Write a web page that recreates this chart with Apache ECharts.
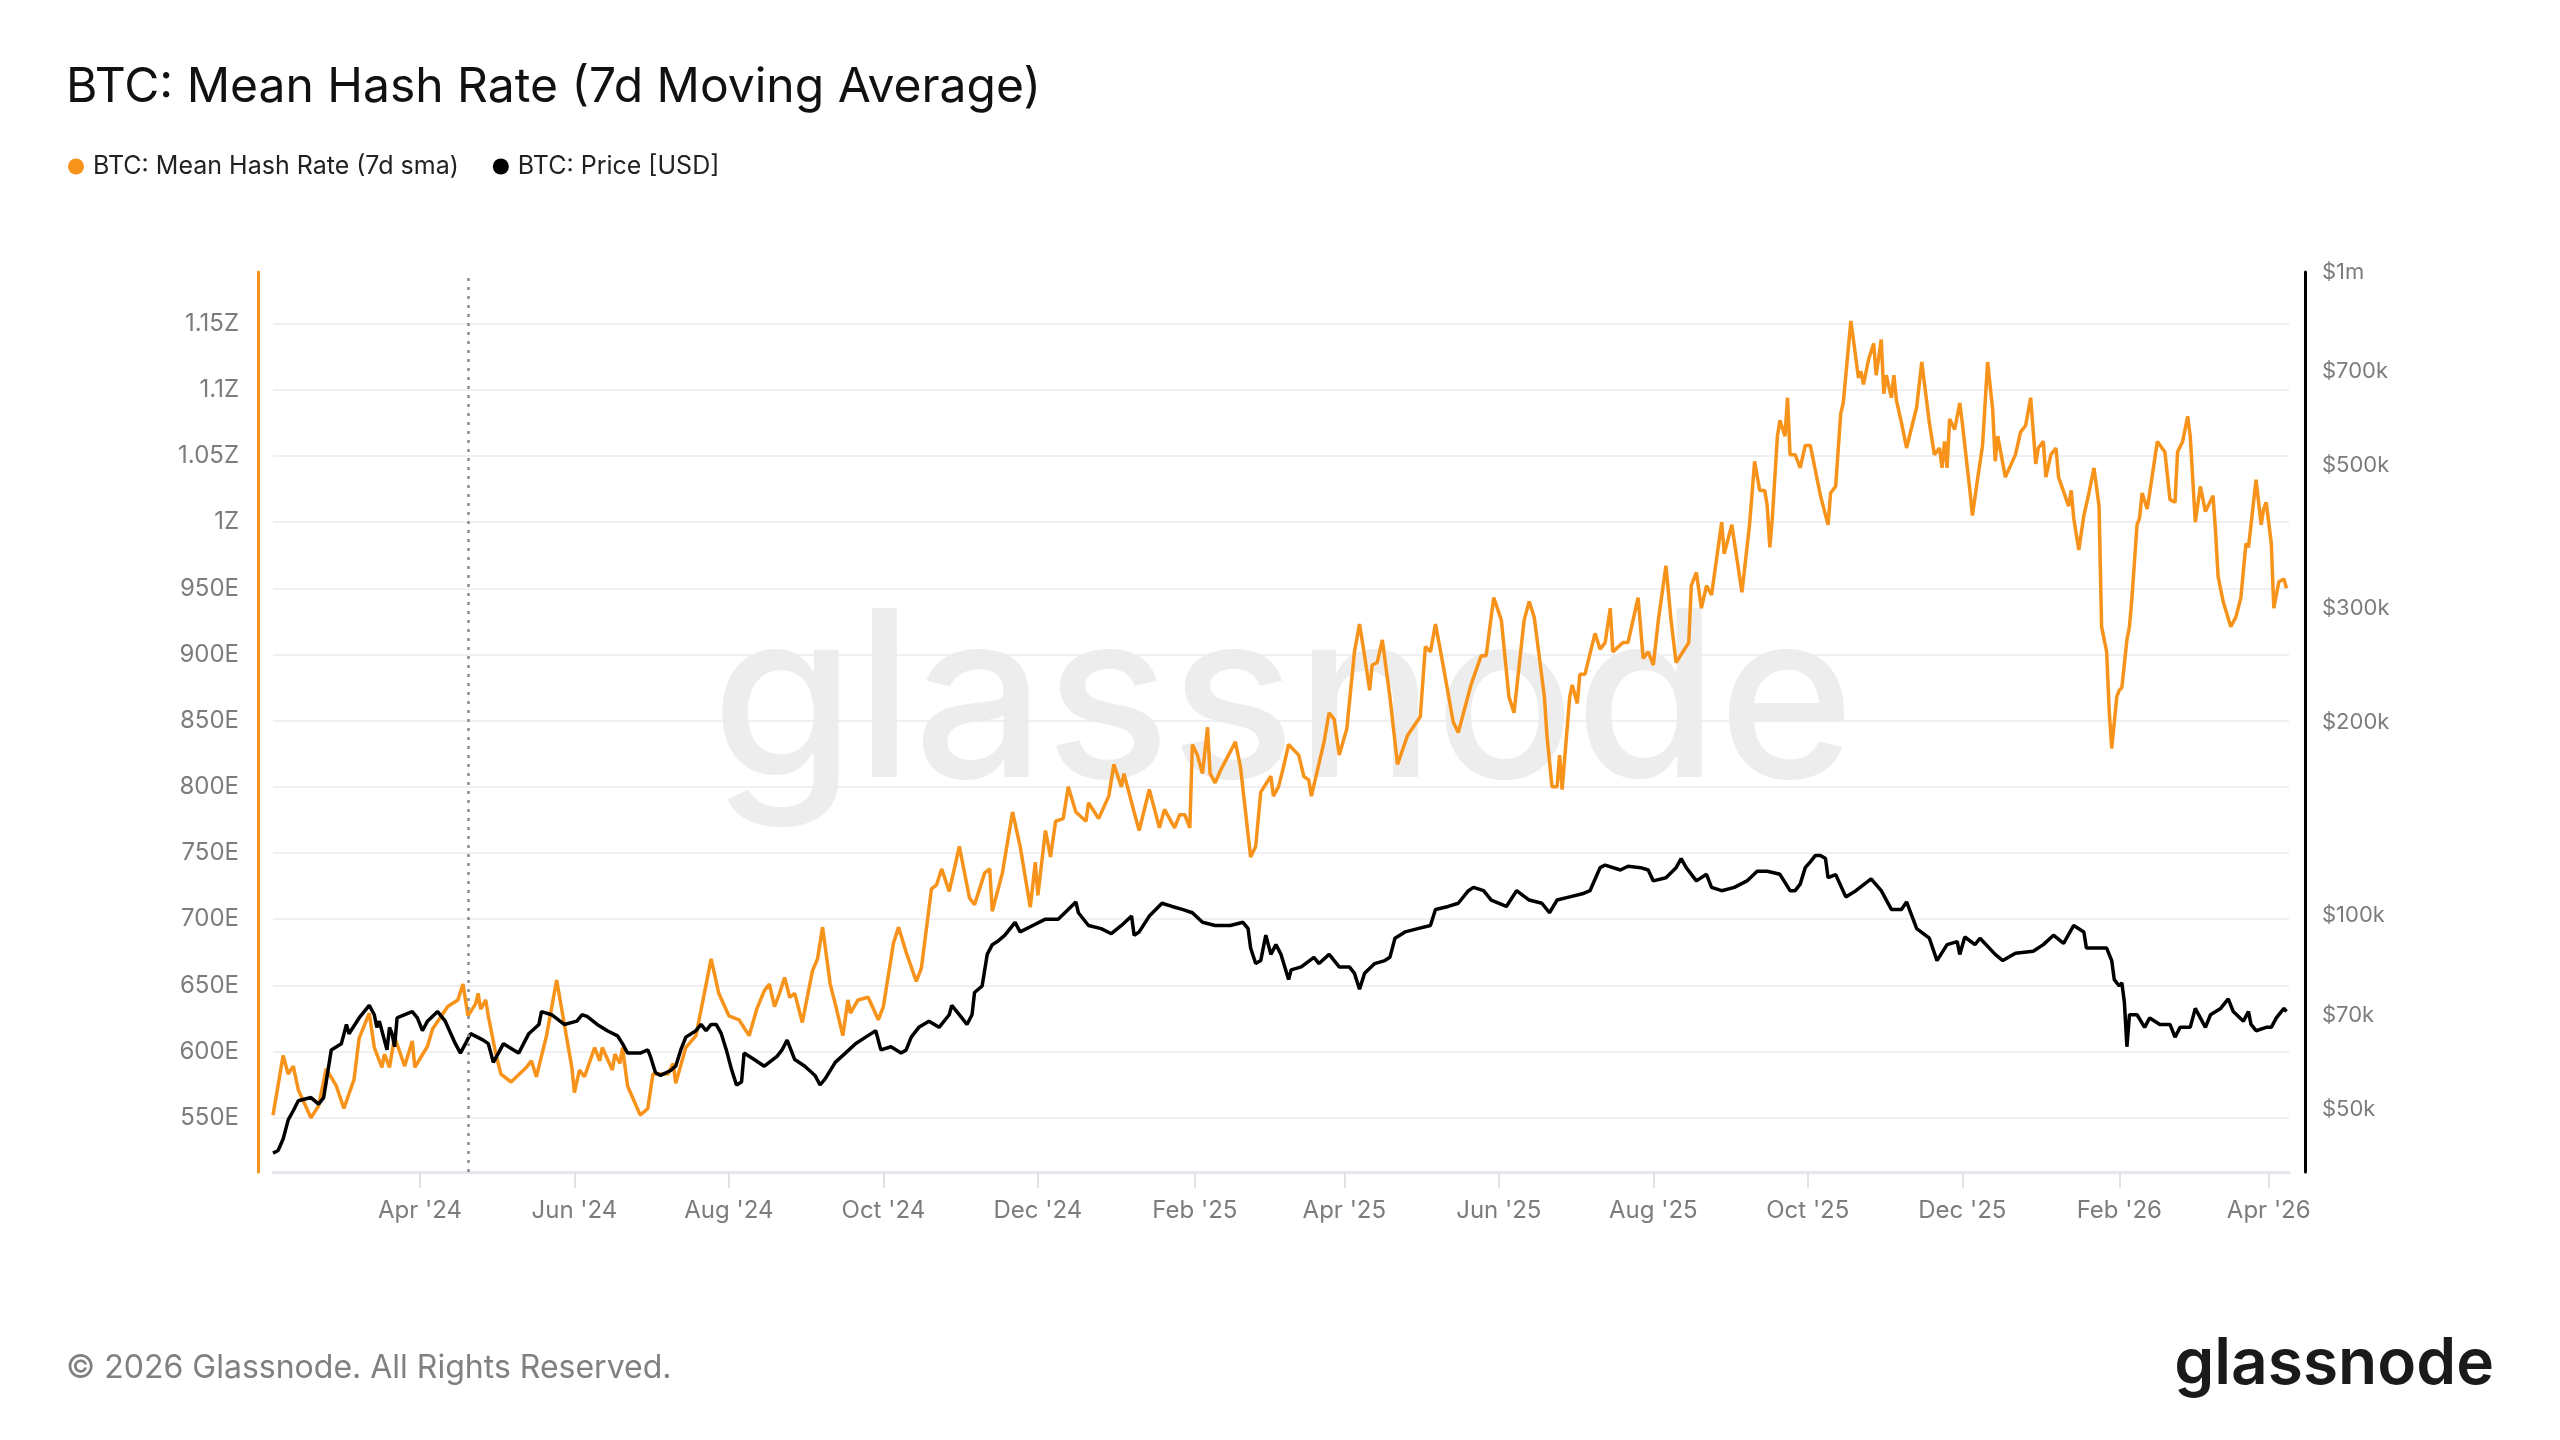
<!DOCTYPE html>
<html>
<head>
<meta charset="utf-8">
<script src="https://cdn.jsdelivr.net/npm/echarts@6/dist/echarts.min.js"></script>
<style>
html,body{margin:0;padding:0;background:#ffffff;}
#chart{width:2560px;height:1440px;}
</style>
</head>
<body>
<div id="chart"></div>
<script>
// ---------- DATA ----------
const hashDates = [
'2024-02-03','2024-02-07','2024-02-09','2024-02-11','2024-02-13','2024-02-18','2024-02-21','2024-02-24','2024-02-28','2024-03-02',
'2024-03-06','2024-03-08','2024-03-12','2024-03-14','2024-03-17','2024-03-18','2024-03-20','2024-03-22','2024-03-26','2024-03-29',
'2024-03-30','2024-04-04','2024-04-06','2024-04-12','2024-04-16','2024-04-18','2024-04-20','2024-04-23','2024-04-24','2024-04-25',
'2024-04-27','2024-04-28','2024-05-01','2024-05-03','2024-05-07','2024-05-13','2024-05-15','2024-05-17','2024-05-21','2024-05-25',
'2024-05-27','2024-05-31','2024-06-01','2024-06-03','2024-06-05','2024-06-09','2024-06-11','2024-06-12','2024-06-16','2024-06-17',
'2024-06-19','2024-06-20','2024-06-22','2024-06-27','2024-06-30','2024-07-02','2024-07-08','2024-07-10','2024-07-11','2024-07-15',
'2024-07-19','2024-07-22','2024-07-25','2024-07-28','2024-08-01','2024-08-05','2024-08-09','2024-08-12','2024-08-15','2024-08-17',
'2024-08-19','2024-08-21','2024-08-23','2024-08-25','2024-08-27','2024-08-30','2024-09-03','2024-09-05','2024-09-07','2024-09-10',
'2024-09-12','2024-09-15','2024-09-17','2024-09-18','2024-09-21','2024-09-25','2024-09-29','2024-10-01','2024-10-05','2024-10-07',
'2024-10-10','2024-10-14','2024-10-16','2024-10-20','2024-10-22','2024-10-24','2024-10-27','2024-10-31','2024-11-04','2024-11-06',
'2024-11-10','2024-11-12','2024-11-13','2024-11-17','2024-11-21','2024-11-24','2024-11-28','2024-11-30','2024-12-01','2024-12-04',
'2024-12-06','2024-12-08','2024-12-11','2024-12-13','2024-12-16','2024-12-20','2024-12-21','2024-12-25','2024-12-29','2024-12-31',
'2025-01-03','2025-01-04','2025-01-08','2025-01-10','2025-01-14','2025-01-18','2025-01-20','2025-01-24','2025-01-26','2025-01-28',
'2025-01-30','2025-01-31','2025-02-02','2025-02-04','2025-02-06','2025-02-07','2025-02-09','2025-02-11','2025-02-17','2025-02-19',
'2025-02-21','2025-02-23','2025-02-25','2025-02-27','2025-03-03','2025-03-04','2025-03-06','2025-03-08','2025-03-10','2025-03-14',
'2025-03-16','2025-03-18','2025-03-19','2025-03-24','2025-03-26','2025-03-28','2025-03-30','2025-04-02','2025-04-05','2025-04-07',
'2025-04-09','2025-04-11','2025-04-12','2025-04-14','2025-04-16','2025-04-19','2025-04-22','2025-04-26','2025-05-01','2025-05-03',
'2025-05-05','2025-05-07','2025-05-10','2025-05-14','2025-05-16','2025-05-21','2025-05-25','2025-05-27','2025-05-30','2025-06-02',
'2025-06-05','2025-06-07','2025-06-11','2025-06-13','2025-06-15','2025-06-19','2025-06-20','2025-06-22','2025-06-24','2025-06-25',
'2025-06-26','2025-06-29','2025-06-30','2025-07-02','2025-07-03','2025-07-05','2025-07-09','2025-07-11','2025-07-13','2025-07-15',
'2025-07-16','2025-07-20','2025-07-22','2025-07-26','2025-07-28','2025-07-30','2025-08-01','2025-08-03','2025-08-06','2025-08-08',
'2025-08-10','2025-08-15','2025-08-16','2025-08-18','2025-08-20','2025-08-22','2025-08-24','2025-08-28','2025-08-29','2025-09-01',
'2025-09-05','2025-09-08','2025-09-10','2025-09-12','2025-09-14','2025-09-15','2025-09-16','2025-09-17','2025-09-19','2025-09-20',
'2025-09-22','2025-09-23','2025-09-24','2025-09-26','2025-09-28','2025-09-30','2025-10-02','2025-10-04','2025-10-06','2025-10-09',
'2025-10-10','2025-10-12','2025-10-14','2025-10-15','2025-10-18','2025-10-19','2025-10-21','2025-10-22','2025-10-23','2025-10-25',
'2025-10-27','2025-10-28','2025-10-30','2025-10-31','2025-11-01','2025-11-03','2025-11-04','2025-11-05','2025-11-07','2025-11-09',
'2025-11-13','2025-11-15','2025-11-18','2025-11-20','2025-11-22','2025-11-23','2025-11-24','2025-11-25','2025-11-26','2025-11-28',
'2025-11-30','2025-12-01','2025-12-04','2025-12-05','2025-12-07','2025-12-09','2025-12-11','2025-12-13','2025-12-14','2025-12-15',
'2025-12-18','2025-12-22','2025-12-24','2025-12-26','2025-12-28','2025-12-30','2025-12-31','2026-01-02','2026-01-03','2026-01-05',
'2026-01-07','2026-01-08','2026-01-12','2026-01-13','2026-01-14','2026-01-16','2026-01-18','2026-01-20','2026-01-22','2026-01-24',
'2026-01-25','2026-01-27','2026-01-28','2026-01-29','2026-01-31','2026-02-01','2026-02-02','2026-02-04','2026-02-05','2026-02-06',
'2026-02-08','2026-02-09','2026-02-10','2026-02-12','2026-02-13','2026-02-16','2026-02-19','2026-02-21','2026-02-23','2026-02-24',
'2026-02-26','2026-02-28','2026-03-01','2026-03-03','2026-03-05','2026-03-07','2026-03-10','2026-03-11','2026-03-12','2026-03-14',
'2026-03-17','2026-03-19','2026-03-21','2026-03-23','2026-03-24','2026-03-25','2026-03-27','2026-03-29','2026-03-30','2026-03-31',
'2026-04-02','2026-04-03','2026-04-05','2026-04-07','2026-04-08'
];
// Mean hash rate, in EH/s (1000 = 1 ZH/s)
const hashValues = [
552,597,583,589,571,550,559,587,574,557,
579,610,629,603,588,598,588,611,589,608,
588,604,617,634,639,651,627,636,644,632,
639,627,598,583,577,588,593,581,612,654,
632,588,569,586,581,603,593,603,586,598,
591,603,574,552,557,583,583,591,576,603,
612,641,670,644,627,624,612,632,646,651,
634,644,656,641,644,622,661,670,694,651,
636,612,639,629,639,641,624,634,682,694,
675,653,663,723,726,738,721,755,716,711,
735,738,706,735,781,755,709,743,718,767,
747,774,776,800,781,774,788,776,793,817,
800,810,781,767,798,769,783,769,779,779,
769,832,824,810,845,810,803,812,834,815,
781,747,755,796,808,793,800,815,832,824,
808,805,793,834,856,851,824,844,902,923,
899,873,892,894,911,868,817,839,853,906,
902,923,892,849,841,877,899,899,943,926,
868,856,926,940,928,868,839,800,800,824,
798,868,877,863,885,885,916,904,909,935,
902,909,909,943,897,902,892,926,967,926,
894,909,952,962,935,952,945,1000,976,998,
947,998,1046,1024,1024,1012,981,1003,1065,1077,
1065,1094,1051,1051,1041,1058,1058,1039,1020,998,
1022,1027,1082,1090,1152,1138,1109,1114,1104,1123,
1135,1111,1138,1097,1111,1094,1111,1092,1075,1056,
1087,1121,1075,1051,1056,1041,1061,1041,1078,1070,
1090,1075,1024,1005,1032,1058,1121,1085,1046,1065,
1034,1051,1068,1073,1094,1044,1056,1061,1034,1051,
1056,1034,1012,1024,1003,979,1005,1022,1041,1012,
921,902,858,829,868,873,875,911,921,943,
998,1003,1022,1010,1022,1061,1053,1017,1015,1053,
1061,1080,1065,1000,1027,1008,1020,993,959,940,
921,928,943,984,981,998,1032,998,1010,1015,
984,935,955,957,950
];
const priceDates = [
'2024-02-03','2024-02-05','2024-02-07','2024-02-09','2024-02-11','2024-02-13','2024-02-18','2024-02-21','2024-02-23','2024-02-24',
'2024-02-26','2024-03-01','2024-03-03','2024-03-04','2024-03-08','2024-03-12','2024-03-14','2024-03-15','2024-03-16','2024-03-19',
'2024-03-20','2024-03-21','2024-03-22','2024-03-23','2024-03-27','2024-03-29','2024-03-31','2024-04-02','2024-04-04','2024-04-08',
'2024-04-11','2024-04-15','2024-04-17','2024-04-19','2024-04-21','2024-04-26','2024-04-28','2024-04-30','2024-05-02','2024-05-04',
'2024-05-08','2024-05-10','2024-05-14','2024-05-18','2024-05-19','2024-05-23','2024-05-28','2024-06-02','2024-06-04','2024-06-06',
'2024-06-10','2024-06-14','2024-06-18','2024-06-20','2024-06-22','2024-06-27','2024-06-30','2024-07-01','2024-07-03','2024-07-05',
'2024-07-09','2024-07-11','2024-07-13','2024-07-15','2024-07-19','2024-07-21','2024-07-23','2024-07-25','2024-07-27','2024-07-29',
'2024-07-31','2024-08-02','2024-08-04','2024-08-06','2024-08-07','2024-08-11','2024-08-15','2024-08-20','2024-08-22','2024-08-24',
'2024-08-27','2024-08-31','2024-09-04','2024-09-06','2024-09-08','2024-09-12','2024-09-16','2024-09-20','2024-09-24','2024-09-28',
'2024-09-30','2024-10-04','2024-10-08','2024-10-10','2024-10-12','2024-10-15','2024-10-19','2024-10-23','2024-10-27','2024-10-28',
'2024-11-01','2024-11-03','2024-11-05','2024-11-06','2024-11-09','2024-11-11','2024-11-13','2024-11-15','2024-11-18','2024-11-22',
'2024-11-24','2024-11-29','2024-12-04','2024-12-09','2024-12-13','2024-12-16','2024-12-17','2024-12-21','2024-12-26','2024-12-30',
'2025-01-03','2025-01-07','2025-01-08','2025-01-10','2025-01-14','2025-01-19','2025-01-23','2025-01-27','2025-01-31','2025-02-04',
'2025-02-09','2025-02-15','2025-02-20','2025-02-22','2025-02-23','2025-02-25','2025-02-27','2025-03-01','2025-03-03','2025-03-05',
'2025-03-07','2025-03-10','2025-03-11','2025-03-15','2025-03-20','2025-03-22','2025-03-26','2025-03-30','2025-04-03','2025-04-05',
'2025-04-07','2025-04-09','2025-04-13','2025-04-17','2025-04-19','2025-04-21','2025-04-25','2025-04-30','2025-05-05','2025-05-07',
'2025-05-12','2025-05-16','2025-05-20','2025-05-22','2025-05-26','2025-05-29','2025-06-04','2025-06-08','2025-06-13','2025-06-18',
'2025-06-21','2025-06-24','2025-06-29','2025-07-04','2025-07-07','2025-07-11','2025-07-13','2025-07-19','2025-07-22','2025-07-27',
'2025-07-30','2025-08-01','2025-08-06','2025-08-10','2025-08-12','2025-08-14','2025-08-18','2025-08-22','2025-08-24','2025-08-28',
'2025-09-02','2025-09-07','2025-09-11','2025-09-15','2025-09-20','2025-09-24','2025-09-26','2025-09-28','2025-09-30','2025-10-02',
'2025-10-04','2025-10-06','2025-10-08','2025-10-09','2025-10-12','2025-10-16','2025-10-20','2025-10-26','2025-10-30','2025-11-03',
'2025-11-07','2025-11-09','2025-11-13','2025-11-18','2025-11-21','2025-11-25','2025-11-29','2025-11-30','2025-12-02','2025-12-06',
'2025-12-08','2025-12-14','2025-12-17','2025-12-22','2025-12-29','2026-01-02','2026-01-06','2026-01-10','2026-01-14','2026-01-18',
'2026-01-19','2026-01-25','2026-01-27','2026-01-29','2026-01-30','2026-02-01','2026-02-02','2026-02-03','2026-02-04','2026-02-05',
'2026-02-08','2026-02-11','2026-02-13','2026-02-17','2026-02-21','2026-02-23','2026-02-25','2026-03-01','2026-03-03','2026-03-05',
'2026-03-07','2026-03-09','2026-03-13','2026-03-16','2026-03-18','2026-03-22','2026-03-24','2026-03-25','2026-03-27','2026-03-31',
'2026-04-02','2026-04-04','2026-04-07','2026-04-08'
];
// BTC price in USD
const priceValues = [
42800,43200,45000,48200,49800,51600,52200,51000,52200,55200,
61900,63300,67800,65600,69400,72600,70200,67100,68600,61900,
67100,65600,62600,69400,70500,71000,69400,66300,68600,71000,
68600,63300,61200,63300,65600,64100,63300,59200,61200,63300,
61900,61200,65600,67800,71000,70200,67800,68600,70200,69800,
67800,66300,65100,63300,61200,61200,61900,60500,57100,56500,
57500,58400,61900,64800,66300,67800,66300,67800,67800,65600,
61900,57800,54600,55200,61200,59800,58400,60500,61900,64100,
59800,58400,56500,54600,55800,59200,61200,63300,64800,66300,
61900,62600,61200,61900,64800,67100,68600,67100,70200,72600,
69400,67800,70200,76000,77800,87100,90200,91200,93300,97700,
94400,96600,98800,98800,102300,105100,101100,96600,95500,93800,
96600,99900,93300,94400,99900,104600,103400,102300,101100,97700,
96600,96600,97700,95500,89100,84300,85200,93300,87100,90200,
87100,79600,82400,83300,86200,84300,87100,83300,83300,81400,
76900,81400,84300,85200,86200,92300,94400,95500,96600,102300,
103400,104600,109400,110700,109400,105800,103400,109400,105800,104600,
101100,105800,107000,108200,109400,118800,119900,117800,119400,118800,
117800,113300,114600,118800,122700,118800,113300,116000,110700,109400,
110700,113300,117300,117300,116000,109400,109400,112000,118800,121300,
124100,124100,122700,114600,115900,107000,109400,114100,109400,102300,
102300,105100,95500,92300,85200,90200,91200,87100,92700,90200,
92300,87100,85200,87500,88100,90200,93300,90600,96600,94400,
89100,89100,89100,85200,79600,77800,78700,73400,62600,70200,
70200,67100,69400,67800,67800,64800,67100,67100,71800,69400,
67100,70200,71800,74300,71000,68600,71000,67800,66300,67100,
67100,69400,71800,71000
];
const xTickDates = ['2024-04-01','2024-06-01','2024-08-01','2024-10-01','2024-12-01','2025-02-01',
  '2025-04-01','2025-06-01','2025-08-01','2025-10-01','2025-12-01','2026-02-01','2026-04-01'];
const hashTicks = [550,600,650,700,750,800,850,900,950,1000,1050,1100,1150];
const priceTicks = [50000,70000,100000,200000,300000,500000,700000,1000000];
const halvingDate = '2024-04-20';

// ---------- CHART ----------
const MONTHS = ['Jan','Feb','Mar','Apr','May','Jun','Jul','Aug','Sep','Oct','Nov','Dec'];
const ts = s => Date.parse(s + 'T00:00:00Z');
const FONT = 'Inter';
const ORANGE = '#F7931A';

const chart = echarts.init(document.getElementById('chart'), null, {renderer: 'canvas', width: 2560, height: 1440});

const option = {
  animation: false,
  backgroundColor: '#ffffff',
  textStyle: {fontFamily: FONT},
  grid: {left: 273, right: 271, top: 272, bottom: 268, containLabel: false},
  legend: {
    left: 63, top: 149, icon: 'circle', itemWidth: 24, itemHeight: 16, itemGap: 34,
    textStyle: {fontFamily: FONT, fontSize: 25, color: '#222222'},
    data: ['BTC: Mean Hash Rate (7d sma)', 'BTC: Price [USD]']
  },
  xAxis: {
    type: 'value',
    min: ts('2024-02-03'), max: ts('2026-04-09'),
    axisLine: {show: true, onZero: false, lineStyle: {color: '#e6e6ec', width: 3}},
    axisTick: {show: true, customValues: xTickDates.map(ts), length: 16, lineStyle: {color: '#e0e0e5', width: 2}},
    axisLabel: {
      customValues: xTickDates.map(ts), color: '#7c7c7c', fontSize: 24, fontFamily: FONT, margin: 27,
      formatter: v => { const d = new Date(v); return MONTHS[d.getUTCMonth()] + " '" + String(d.getUTCFullYear()).slice(2); }
    },
    splitLine: {show: false}
  },
  yAxis: [
    {
      type: 'value', position: 'left', min: 509, max: 1189, offset: 15,
      axisLine: {show: true, lineStyle: {color: ORANGE, width: 3}},
      axisTick: {show: false, customValues: hashTicks},
      axisLabel: {
        customValues: hashTicks, color: '#7c7c7c', fontSize: 24, fontFamily: FONT, margin: 19,
        formatter: v => v >= 1000 ? (v / 1000) + 'Z' : v + 'E'
      },
      splitLine: {show: true, lineStyle: {color: '#ebebf0', width: 1.5}}
    },
    {
      type: 'log', logBase: 10, position: 'right', min: 40000, max: 1000000, offset: 16,
      axisLine: {show: true, lineStyle: {color: '#000000', width: 3}},
      axisTick: {show: false},
      axisLabel: {
        customValues: priceTicks, color: '#7c7c7c', fontSize: 22, fontFamily: FONT, margin: 17,
        formatter: v => v >= 1000000 ? '$' + (v / 1000000) + 'm' : '$' + Math.round(v / 1000) + 'k'
      },
      splitLine: {show: false}
    }
  ],
  graphic: [
    {type: 'text', z: 0, x: 1283, y: 707, silent: true,
      style: {text: 'glassnode', fill: '#ededed', font: '500 232px Inter', align: 'center', verticalAlign: 'middle', textAlign: 'center', textVerticalAlign: 'middle'}},
    {type: 'text', x: 66, y: 88, silent: true,
      style: {text: 'BTC: Mean Hash Rate (7d Moving Average)', fill: '#111111', font: '400 48px Inter', align: 'left', verticalAlign: 'middle', textAlign: 'left', textVerticalAlign: 'middle'}},
    {type: 'text', x: 66, y: 1368, silent: true,
      style: {text: '© 2026 Glassnode. All Rights Reserved.', fill: '#808080', font: '400 32px Inter', align: 'left', verticalAlign: 'middle', textAlign: 'left', textVerticalAlign: 'middle'}},
    {type: 'text', x: 2494, y: 1365, silent: true,
      style: {text: 'glassnode', fill: '#1a1a1a', font: '600 64px Inter', align: 'right', verticalAlign: 'middle', textAlign: 'right', textVerticalAlign: 'middle'}}
  ],
  series: [
    {
      name: 'BTC: Mean Hash Rate (7d sma)', type: 'line', yAxisIndex: 0, z: 3,
      showSymbol: false, symbol: 'none', color: ORANGE,
      lineStyle: {color: ORANGE, width: 3.5},
      data: hashDates.map((d, i) => [ts(d), hashValues[i]]),
      markLine: {
        silent: true, symbol: 'none', label: {show: false},
        lineStyle: {type: [3, 6], color: '#8c8c8c', width: 2.5},
        data: [{xAxis: ts(halvingDate)}]
      }
    },
    {
      name: 'BTC: Price [USD]', type: 'line', yAxisIndex: 1, z: 4,
      showSymbol: false, symbol: 'none', color: '#000000',
      lineStyle: {color: '#000000', width: 3.5},
      data: priceDates.map((d, i) => [ts(d), priceValues[i]])
    }
  ]
};
chart.setOption(option);
</script>
</body>
</html>
